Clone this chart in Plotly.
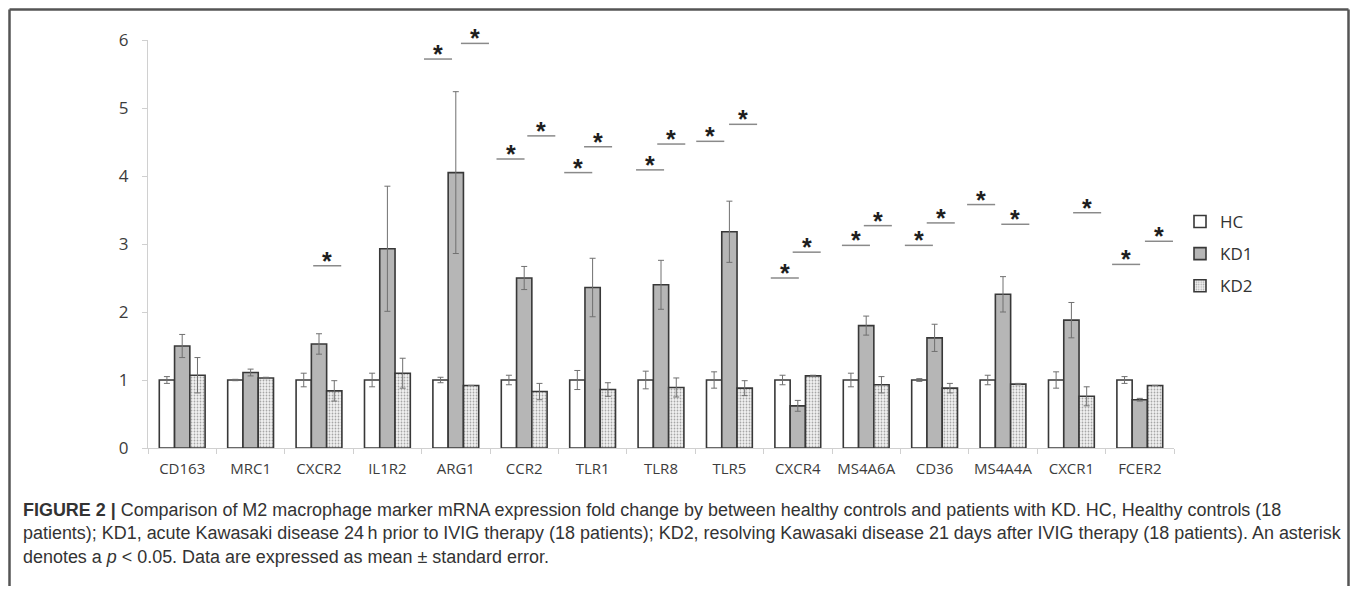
import plotly.graph_objects as go

categories = ["CD163", "MRC1", "CXCR2", "IL1R2", "ARG1", "CCR2", "TLR1", "TLR8",
              "TLR5", "CXCR4", "MS4A6A", "CD36", "MS4A4A", "CXCR1", "FCER2"]
hc = [1.00, 1.00, 1.00, 1.00, 1.00, 1.00, 1.00, 1.00, 1.00, 1.00, 1.00, 1.00, 1.00, 1.00, 1.00]
hc_err = [0.05, 0.01, 0.10, 0.10, 0.04, 0.07, 0.14, 0.13, 0.12, 0.07, 0.10, 0.02, 0.07, 0.12, 0.05]
kd1 = [1.50, 1.11, 1.53, 2.93, 4.05, 2.50, 2.36, 2.40, 3.18, 0.62, 1.80, 1.62, 2.26, 1.88, 0.71]
kd1_err = [0.17, 0.05, 0.15, 0.92, 1.19, 0.17, 0.43, 0.36, 0.45, 0.08, 0.14, 0.20, 0.26, 0.26, 0.02]
kd2 = [1.07, 1.03, 0.84, 1.10, 0.92, 0.83, 0.86, 0.89, 0.88, 1.06, 0.93, 0.88, 0.94, 0.76, 0.92]
kd2_err = [0.26, 0.01, 0.15, 0.22, 0.00, 0.12, 0.10, 0.14, 0.11, 0.01, 0.12, 0.07, 0.01, 0.14, 0.00]

y_ticks = [0, 1, 2, 3, 4, 5, 6]

# significance markers: category, offset within category, height
sig_cat = ["CXCR2", "ARG1", "ARG1", "CCR2", "CCR2", "TLR1", "TLR1", "TLR8", "TLR8",
           "TLR5", "TLR5", "CXCR4", "CXCR4", "MS4A6A", "MS4A6A", "CD36", "CD36",
           "MS4A4A", "MS4A4A", "CXCR1", "FCER2", "FCER2"]
sig_offset = [0.12, -0.26, 0.28, -0.20, 0.25, -0.21, 0.08, -0.16, 0.15,
              -0.28, 0.20, -0.19, 0.13, -0.15, 0.17, -0.23, 0.09,
              -0.32, 0.18, 0.23, -0.20, 0.28]
sig_y = [2.68, 5.72, 5.95, 4.25, 4.59, 4.05, 4.43, 4.09, 4.47,
         4.51, 4.76, 2.50, 2.88, 2.98, 3.27, 2.98, 3.31,
         3.58, 3.29, 3.46, 2.70, 3.04]

caption = ("<b>FIGURE 2 |</b> Comparison of M2 macrophage marker mRNA expression fold change by between "
           "healthy controls and patients with KD. HC, Healthy controls (18<br>"
           "patients); KD1, acute Kawasaki disease 24\u2009h prior to IVIG therapy (18 patients); KD2, "
           "resolving Kawasaki disease 21 days after IVIG therapy (18 patients). An asterisk<br>"
           "denotes a <i>p</i> &lt; 0.05. Data are expressed as mean \u00b1 standard error.")

# the page body has an 8px margin: the figure sits at (8, 8) and is sized so the
# page does not overflow the 1358x594 window
PAGE = 8
W, H = 1358 - 2 * PAGE, 594 - 2 * PAGE
PLOT_L, PLOT_R, PLOT_T, PLOT_B = 148, 1174, 40, 448   # window pixels of the plot area
ML, MR = PLOT_L - PAGE, W - (PLOT_R - PAGE)
MT, MB = PLOT_T - PAGE, H - (PLOT_B - PAGE)
PW, PH = W - ML - MR, H - MT - MB


def px_x(p):
    return (p - PAGE - ML) / PW


def px_y(p):
    return (H - MB - (p - PAGE)) / PH


AX_FONT = "Open Sans, sans-serif"
OUT = "#383838"
err_style = dict(type="data", thickness=1, width=3, color="#707070")

fig = go.Figure()
fig.add_trace(go.Bar(
    x=categories, y=hc, name="HC", legendgroup="a",
    marker=dict(color="white", line=dict(color=OUT, width=1.6)),
    error_y=dict(array=hc_err, **err_style)))
fig.add_trace(go.Bar(
    x=categories, y=kd1, name="KD1", legendgroup="b",
    marker=dict(color="#b6b6b6", line=dict(color=OUT, width=1.6)),
    error_y=dict(array=kd1_err, **err_style)))
fig.add_trace(go.Bar(
    x=categories, y=kd2, name="KD2", legendgroup="c",
    marker=dict(color="white", line=dict(color=OUT, width=1.6),
                pattern=dict(shape=".", size=3, solidity=0.28, fgcolor="#a6a6a6",
                             bgcolor="#f2f2f2", fillmode="replace")),
    error_y=dict(array=kd2_err, **err_style)))

shapes = []
annotations = []
for c, off, yv in zip(sig_cat, sig_offset, sig_y):
    xc = categories.index(c) + off
    shapes.append(dict(type="line", xref="x", yref="y", x0=xc - 0.205, x1=xc + 0.205,
                       y0=yv, y1=yv, line=dict(color="#8a8a8a", width=1.5)))
    annotations.append(dict(x=xc, y=yv, xref="x", yref="y", text="<b>*</b>", showarrow=False,
                            yanchor="middle", yshift=5,
                            font=dict(family="Liberation Sans, Arial, sans-serif", size=25,
                                      color="#1e1e1e")))

# outer frame of the figure (top, left, right edges)
frame = dict(xref="paper", yref="paper", type="line", layer="above",
             line=dict(color="#555555", width=2.5))
x_left, x_right = px_x(9.5), px_x(1348.5)
y_top, y_bottom = px_y(9.5), px_y(640)
shapes.append(dict(frame, x0=x_left, x1=x_right, y0=y_top, y1=y_top))
shapes.append(dict(frame, x0=x_left, x1=x_left, y0=y_bottom, y1=y_top))
shapes.append(dict(frame, x0=x_right, x1=x_right, y0=y_bottom, y1=y_top))

annotations.append(dict(x=px_x(21), y=px_y(498), xref="paper", yref="paper",
                        xanchor="left", yanchor="top", align="left", showarrow=False,
                        text=caption,
                        font=dict(family="Liberation Sans, Arial, sans-serif", size=17.95,
                                  color="#333333")))

fig.update_layout(
    width=W, height=H,
    margin=dict(l=ML, r=MR, t=MT, b=MB),
    paper_bgcolor="white", plot_bgcolor="white",
    barmode="group", bargap=0.33, bargroupgap=0,
    shapes=shapes, annotations=annotations,
    legend=dict(x=px_x(1180), y=px_y(204), xanchor="left", yanchor="top",
                font=dict(family=AX_FONT, size=17, color="#333333"),
                traceorder="grouped", tracegroupgap=7, itemwidth=30,
                bgcolor="rgba(0,0,0,0)"),
    xaxis=dict(type="category", showline=True, linecolor="#d0d0d0", linewidth=1,
               ticks="outside", tickson="boundaries", ticklen=5, tickcolor="#d0d0d0",
               tickfont=dict(family=AX_FONT, size=15, color="#3c3c3c"),
               ticklabelstandoff=7, showgrid=False, zeroline=False),
    yaxis=dict(range=[0, 6], tickvals=y_ticks, showline=True, linecolor="#d0d0d0",
               linewidth=1, ticks="outside", ticklen=5, tickcolor="#d0d0d0",
               tickfont=dict(family=AX_FONT, size=17, color="#3c3c3c"),
               ticklabelstandoff=10, showgrid=False, zeroline=False),
)

fig.write_html("out.html")
